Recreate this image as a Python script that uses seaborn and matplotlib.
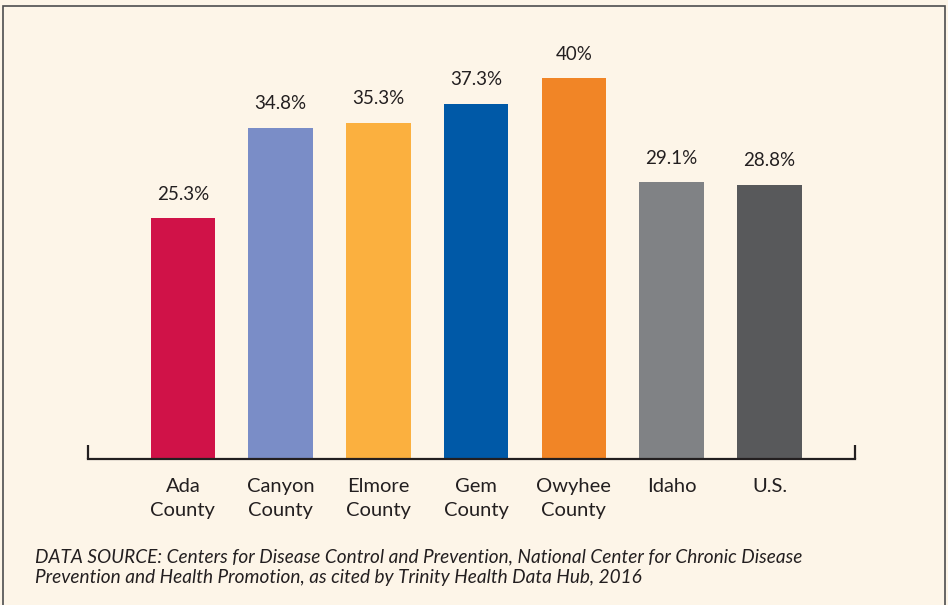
import matplotlib
matplotlib.use('Agg')
import matplotlib.pyplot as plt
import seaborn as sns
import pandas as pd
from matplotlib.patches import Rectangle

regions = ['Ada\nCounty', 'Canyon\nCounty', 'Elmore\nCounty', 'Gem\nCounty',
           'Owyhee\nCounty', 'Idaho', 'U.S.']
values  = [25.3, 34.8, 35.3, 37.3, 40.0, 29.1, 28.8]
labels  = ['25.3%', '34.8%', '35.3%', '37.3%', '40%', '29.1%', '28.8%']
colors  = ['#D01248', '#7A8DC7', '#FBB03F', '#0059A7', '#F18526', '#808285', '#58595B']
source  = ('DATA SOURCE: Centers for Disease Control and Prevention, National Center for Chronic Disease\n'
           'Prevention and Health Promotion, as cited by Trinity Health Data Hub, 2016')

bg = '#FDF5E8'
df = pd.DataFrame({'region': regions, 'value': values})

sns.set_style('white')
plt.rcParams['font.family'] = ['Lato', 'DejaVu Sans']

fig = plt.figure(figsize=(9.48, 6.05), dpi=100, facecolor=bg)
ax = fig.add_axes([88 / 948, 146 / 605, 767 / 948, 439 / 605])
ax.set_facecolor(bg)

sns.barplot(data=df, x='region', y='value', hue='region', palette=colors,
            width=0.66, legend=False, ax=ax, saturation=1, linewidth=0)

for cont, lab in zip(ax.containers, labels):
    ax.bar_label(cont, labels=[lab], padding=11, fontsize=13.5, color='#231F20')

ax.set_xlim(-0.97, 6.875)
ax.set_ylim(0, 46.09)
ax.set_xlabel('')
ax.set_ylabel('')
ax.set_yticks([])
for s in ['top', 'left', 'right']:
    ax.spines[s].set_visible(False)
ax.spines['bottom'].set_color('#231F20')
ax.spines['bottom'].set_linewidth(1.6)

# end ticks on the baseline
ax.set_xticks([-0.97, 6.875], minor=True)
ax.tick_params(axis='x', which='minor', bottom=True, direction='in', length=10,
               width=1.6, color='#231F20')
ax.tick_params(axis='x', which='major', length=0, pad=14, labelsize=14.5, labelcolor='#231F20')
for t in ax.get_xticklabels():
    t.set_linespacing(1.5)

fig.text(35 / 948, 1 - 567 / 605, source, fontsize=13.7, style='italic',
         color='#231F20', va='center', ha='left', linespacing=1.25)

# frame around the figure
fig.patches.append(Rectangle((3 / 948, -0.05), 942 / 948, 1.05 - 6 / 605,
                             transform=fig.transFigure, fill=False,
                             edgecolor='#4D4D4F', linewidth=1.2))

fig.savefig('out.png', dpi=100, facecolor=bg)
